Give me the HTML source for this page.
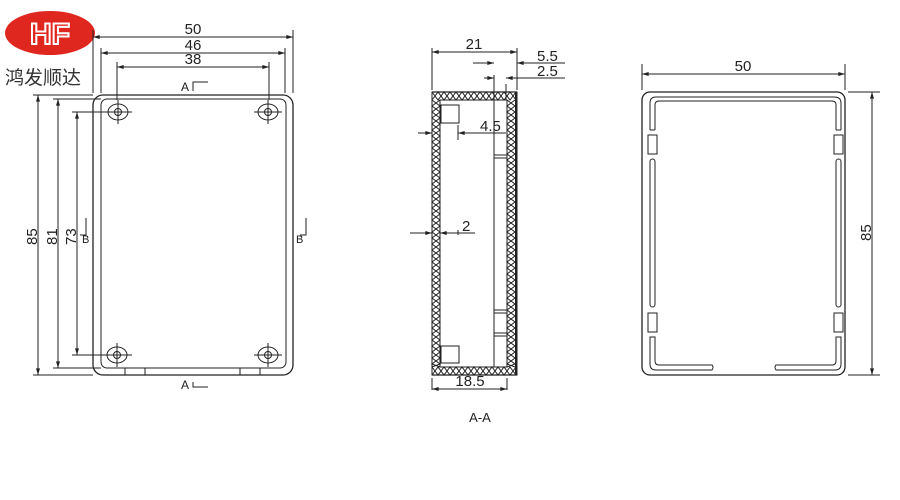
<!DOCTYPE html>
<html><head><meta charset="utf-8"><style>html,body{margin:0;padding:0;background:#fff;overflow:hidden}svg{display:block}</style></head>
<body>
<svg width="900" height="500" viewBox="0 0 900 500" xmlns="http://www.w3.org/2000/svg" font-family="Liberation Sans, sans-serif" fill="none" stroke="#222" stroke-width="1">
<defs>
<marker id="a" viewBox="0 0 10 6" refX="10" refY="3" markerWidth="8" markerHeight="4" orient="auto-start-reverse"><path d="M0,0L10,3L0,6z" fill="#222" stroke="none"/></marker>
</defs>
<!-- logo -->
<ellipse cx="50" cy="33" rx="45" ry="22" fill="#e0271f" stroke="none"/>
<text x="50" y="44" font-size="30" font-weight="bold" text-anchor="middle" fill="#e0271f" stroke="#fff" stroke-width="2">HF</text>
<text x="5" y="84" font-size="19" fill="#333" stroke="none" font-family="Liberation Sans, Noto Sans CJK SC, sans-serif">鸿发顺达</text>

<!-- LEFT VIEW -->
<rect x="93" y="95" width="200" height="280" rx="10" stroke-width="1.3"/>
<rect x="101" y="99" width="185" height="269" rx="6"/>
<line x1="125" y1="368" x2="125" y2="375"/><line x1="145" y1="368" x2="145" y2="375"/>
<line x1="240" y1="368" x2="240" y2="375"/><line x1="260" y1="368" x2="260" y2="375"/>
<g>
<ellipse cx="118" cy="112" rx="10" ry="8"/><circle cx="118" cy="112" r="3.5"/>
<ellipse cx="268" cy="112" rx="10" ry="8"/><circle cx="268" cy="112" r="3.5"/>
<ellipse cx="117" cy="355" rx="10" ry="8"/><circle cx="117" cy="355" r="3.5"/>
<ellipse cx="268" cy="355" rx="10" ry="8"/><circle cx="268" cy="355" r="3.5"/>
<path d="M104 112H132M254 112H282M104 355H132M254 355H282M118 100V124M268 100V124M117 343V367M268 343V367"/>
</g>
<!-- top dims -->
<path d="M93 93V30M293 93V30M101 93V48M285 93V48M117 100V62M269 100V62"/>
<line x1="93" y1="37" x2="293" y2="37" marker-start="url(#a)" marker-end="url(#a)"/>
<line x1="101" y1="53" x2="285" y2="53" marker-start="url(#a)" marker-end="url(#a)"/>
<line x1="117" y1="67" x2="269" y2="67" marker-start="url(#a)" marker-end="url(#a)"/>
<g fill="#222" stroke="none" font-size="15" text-anchor="middle">
<text x="193" y="34">50</text><text x="193" y="50">46</text><text x="193" y="64">38</text>
</g>
<!-- left dims -->
<path d="M33 375H93M53 368H101M72 355H105M33 95H93M53 99H101M72 112H105"/>
<line x1="38" y1="95" x2="38" y2="375" marker-start="url(#a)" marker-end="url(#a)"/>
<line x1="58" y1="99" x2="58" y2="368" marker-start="url(#a)" marker-end="url(#a)"/>
<line x1="77" y1="112" x2="77" y2="355" marker-start="url(#a)" marker-end="url(#a)"/>
<g fill="#222" stroke="none" font-size="15">
<text transform="translate(37,245) rotate(-90)">85</text>
<text transform="translate(57,245) rotate(-90)">81</text>
<text transform="translate(76,245) rotate(-90)">73</text>
<text x="181" y="91" font-size="12">A</text><text x="181" y="389" font-size="12">A</text>
<text x="82" y="243" font-size="11">B</text><text x="296" y="243" font-size="11">B</text>
</g>
<path d="M193 91V82H208M193 382V387H208M80 235H86V218M300 235H306V218"/>

<!-- MIDDLE VIEW -->
<rect x="432" y="92" width="85" height="283"/>
<rect x="440" y="100" width="67" height="267"/>
<path d="M432 92H517M432 375H517" stroke-width="1.3"/>
<path d="M516 92V375" stroke-width="2"/>
<path id="zt" d="M432 92 L438 100 L444 92 L450 100 L456 92 L462 100 L468 92 L474 100 L480 92 L486 100 L492 92 L498 100 L504 92 L510 100 L516 92"/>
<use href="#zt" transform="translate(0,192) scale(1,-1)"/>
<use href="#zt" transform="translate(0,275)"/>
<use href="#zt" transform="translate(0,467) scale(1,-1)"/>
<path id="zl" d="M432 100 L440 106 L432 112 L440 118 L432 124 L440 130 L432 136 L440 142 L432 148 L440 154 L432 160 L440 166 L432 172 L440 178 L432 184 L440 190 L432 196 L440 202 L432 208 L440 214 L432 220 L440 226 L432 232 L440 238 L432 244 L440 250 L432 256 L440 262 L432 268 L440 274 L432 280 L440 286 L432 292 L440 298 L432 304 L440 310 L432 316 L440 322 L432 328 L440 334 L432 340 L440 346 L432 352 L440 358 L432 364 L440 367"/>
<use href="#zl" transform="translate(872,0) scale(-1,1)"/>
<use href="#zl" transform="translate(75,0)"/>
<use href="#zl" transform="translate(947,0) scale(-1,1)"/>
<path d="M494 100V367"/>
<rect x="441" y="105" width="18" height="18" fill="#fff"/><rect x="441" y="346" width="18" height="17" fill="#fff"/>
<path d="M494 155H507M494 158H507M494 310H507M494 313H507M494 333H507M494 336H507" stroke-width="1"/>
<!-- middle dims -->
<path d="M432 90V48M517 90V48M494 100V75M506 100V84M432 378V390M507 378V390M458 125V140M458 230V235"/>
<line x1="432" y1="52" x2="517" y2="52" marker-start="url(#a)" marker-end="url(#a)"/>
<line x1="473" y1="63" x2="494" y2="63" marker-end="url(#a)"/>
<line x1="565" y1="63" x2="517" y2="63" marker-end="url(#a)"/>
<line x1="484" y1="78" x2="494" y2="78" marker-end="url(#a)"/>
<line x1="565" y1="78" x2="506" y2="78" marker-end="url(#a)"/>
<line x1="418" y1="133" x2="432" y2="133" marker-end="url(#a)"/>
<line x1="468" y1="133" x2="458" y2="133" marker-end="url(#a)"/>
<path d="M458 133H506"/>
<line x1="410" y1="233" x2="432" y2="233" marker-end="url(#a)"/>
<line x1="475" y1="233" x2="440" y2="233" marker-end="url(#a)"/>
<line x1="432" y1="389" x2="507" y2="389" marker-start="url(#a)" marker-end="url(#a)"/>
<g fill="#222" stroke="none" font-size="15">
<text x="474" y="49" text-anchor="middle">21</text>
<text x="537" y="61">5.5</text><text x="537" y="76">2.5</text>
<text x="480" y="131">4.5</text><text x="462" y="231">2</text>
<text x="470" y="386" text-anchor="middle">18.5</text>
<text x="480" y="422" text-anchor="middle" font-size="13">A-A</text>
</g>

<!-- RIGHT VIEW -->
<rect x="642" y="92" width="203" height="283" rx="8" stroke-width="1.3"/>
<path d="M655 130V105Q655 101 659 101H832Q836 101 836 105V130"/>
<path d="M650 130V103Q650 97 656 97H834Q841 97 841 103V130"/>
<path d="M650 130H655M836 130H841"/>
<rect x="648" y="135" width="9" height="19"/><rect x="834" y="135" width="9" height="19"/>
<rect x="648" y="313" width="9" height="19"/><rect x="834" y="313" width="9" height="19"/>
<rect x="650" y="159" width="5" height="148" rx="2.5"/><rect x="836" y="159" width="5" height="148" rx="2.5"/>
<path d="M650 337V364Q650 370 656 370H712Q714 367 712 365H659Q655 365 655 361V337Z"/>
<path d="M841 337V364Q841 370 835 370H776Q774 367 776 365H832Q836 365 836 361V337Z"/>
<path d="M642 90V64M845 90V64M848 92H880M848 375H880"/>
<line x1="642" y1="74" x2="845" y2="74" marker-start="url(#a)" marker-end="url(#a)"/>
<line x1="872" y1="92" x2="872" y2="375" marker-start="url(#a)" marker-end="url(#a)"/>
<g fill="#222" stroke="none" font-size="15">
<text x="743" y="71" text-anchor="middle">50</text>
<text transform="translate(871,241) rotate(-90)">85</text>
</g>
</svg>
</body></html>
